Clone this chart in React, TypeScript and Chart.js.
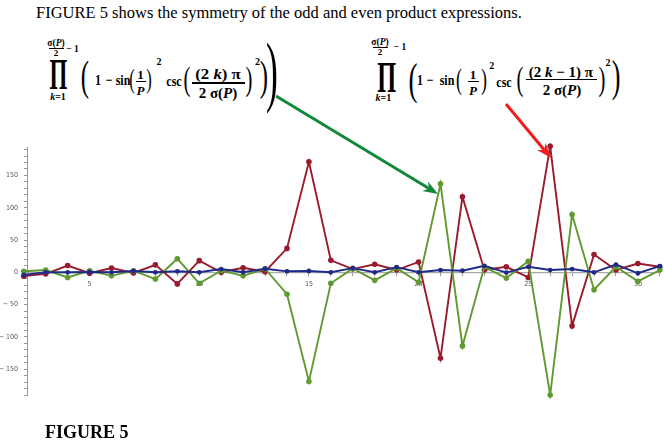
import React, { useEffect, useRef } from "react";
import { Chart, registerables } from "chart.js";
Chart.register(...registerables);

// ---- data (x = 1 .. 31) ----
const xValues = [1, 2, 3, 4, 5, 6, 7, 8, 9, 10, 11, 12, 13, 14, 15, 16, 17, 18, 19, 20, 21, 22, 23, 24, 25, 26, 27, 28, 29, 30, 31];
const redSeries = [-9, -6, -2.5, 10.5, -1.5, 6.5, -1, 11.5, -18, 18, 0, 7, 1, 37, 171, 18.5, 5, 12.5, 3.5, 16, -133, 117, 3.5, 8.5, -8, 195, -83, 27.5, 3.5, 13.5, 8.5];
const greenSeries = [0, 1.5, 3.5, -8, 2.5, -5.5, 2.5, -10.5, 21, -17, 2.5, -5.5, 5.5, -34, -169, -17, 6, -12.5, 6.5, -15.5, 137, -114, 8.5, -9, 17, -190, 89.5, -27, 8.5, -14, 3.5];
const blueSeries = [-9, -4, 0, 0, 0.5, 0, 2, 0, 1.5, 0, 5, 0, 5.5, 1.5, 2, 0, 6.5, 0, 8, 0, 3.5, 2.5, 10, -0.5, 8.5, 3.5, 5, 0, 12, -1.5, 9.5];

const xTickValues = [3, 4, 5, 6, 7, 8, 9, 10, 11, 12, 13, 14, 15, 16, 17, 18, 19, 20, 21, 22, 23, 24, 25, 26, 27, 28, 29, 30, 31];
const xLabelValues = [5, 10, 15, 20, 25, 30];
const yTickValues = [-190, -180, -170, -160, -150, -140, -130, -120, -110, -100, -90, -80, -70, -60, -50, -40, -30, -20, -10, 0, 10, 20, 30, 40, 50, 60, 70, 80, 90, 100, 110, 120, 130, 140, 150, 160, 170, 180, 190];
const yLabelValues = [-150, -100, -50, 0, 50, 100, 150];

const RED = "#9a1a2e";
const GREEN = "#5f9a30";
const BLUE = "#1f2a88";

const SERIF = '"Liberation Serif", "Times New Roman", serif';

type TP = {
  x: number; y: number; size?: number; italic?: boolean; normal?: boolean; left?: boolean;
  sx?: number; sy?: number; family?: string; children: React.ReactNode;
};
function Txt({ x, y, size = 14, italic, normal, left, sx = 1, sy = 1, family, children }: TP) {
  return (
    <span
      style={{
        position: "absolute", left: x, top: y,
        transform: `translate(${left ? "0" : "-50%"},-50%) scale(${sx},${sy})`,
        transformOrigin: left ? "left center" : "center center",
        fontFamily: family || SERIF, fontWeight: normal ? 400 : 700,
        fontStyle: italic ? "italic" : "normal", fontSize: size, lineHeight: 1,
        whiteSpace: "nowrap", color: "#000",
      }}
    >
      {children}
    </span>
  );
}
function Bar({ x1, x2, y }: { x1: number; x2: number; y: number }) {
  return <div style={{ position: "absolute", left: x1, top: y - 0.6, width: x2 - x1, height: 1.2, background: "#000" }} />;
}
function Paren({ x, y, h, ch, sx = 0.6 }: { x: number; y: number; h: number; ch: string; sx?: number }) {
  const size = h / 0.87;
  return <Txt x={x} y={y - 0.079 * size} size={size} normal sx={sx}>{ch}</Txt>;
}
function Prod({ x, y, h, w }: { x: number; y: number; h: number; w: number }) {
  const size = w / 0.74;
  const sy = h / (0.662 * size);
  return <Txt x={x} y={y} size={size} sy={sy}>Π</Txt>;
}
const I = ({ children }: { children: React.ReactNode }) => <i>{children}</i>;

function Arrow({ x1, y1, x2, y2, color, width, head, headW }: { x1: number; y1: number; x2: number; y2: number; color: string; width: number; head: number; headW: number }) {
  const dx = x2 - x1, dy = y2 - y1, L = Math.hypot(dx, dy);
  const ux = dx / L, uy = dy / L;
  const bx = x2 - ux * head, by = y2 - uy * head;
  const px = (-uy * headW) / 2, py = (ux * headW) / 2;
  const nx = bx + ux * head * 0.3, ny = by + uy * head * 0.3;
  return (
    <g>
      <line x1={x1} y1={y1} x2={nx} y2={ny} stroke={color} strokeWidth={width} />
      <polygon points={`${x2},${y2} ${bx + px},${by + py} ${nx},${ny} ${bx - px},${by - py}`} fill={color} />
    </g>
  );
}

const SQ = 0.8;

function LeftFormula() {
  return (
    <>
      <Txt x={56} y={44} size={9.5}>σ(<I>P</I>)</Txt>
      <Bar x1={48.5} x2={63.5} y={48.5} />
      <Txt x={56} y={53} size={9}>2</Txt>
      <Txt x={72.5} y={49.5} size={9.5}>− 1</Txt>
      <Prod x={58.5} y={77} h={29} w={17} />
      <Txt x={58} y={97} size={10}><I>k</I>=1</Txt>
      <Paren x={85} y={80} h={36} ch="(" />
      <Txt x={98.3} y={80} size={15} sx={SQ}>1</Txt>
      <Txt x={108.7} y={80} size={15} sx={SQ}>−</Txt>
      <Txt x={123} y={80} size={15} sx={SQ}>sin</Txt>
      <Paren x={132} y={81} h={24} ch="(" />
      <Txt x={140.5} y={74} size={13}>1</Txt>
      <Bar x1={135.5} x2={146} y={81.5} />
      <Txt x={140.5} y={90} size={13}><I>P</I></Txt>
      <Paren x={149} y={81} h={24} ch=")" />
      <Txt x={159} y={62} size={10}>2</Txt>
      <Txt x={174} y={81} size={15} sx={SQ}>csc</Txt>
      <Paren x={186.5} y={81} h={30} ch="(" />
      <Txt x={218} y={74} size={15} sx={1.12}>(2 <I>k</I>) π</Txt>
      <Bar x1={192} x2={245} y={83} />
      <Txt x={218} y={92.5} size={15}>2 σ(<I>P</I>)</Txt>
      <Paren x={249} y={81} h={30} ch=")" />
      <Txt x={257.5} y={62} size={10}>2</Txt>
      <Paren x={264} y={80} h={36} ch=")" />
      <Paren x={272} y={77.5} h={69} ch=")" sx={0.45} />
    </>
  );
}
function RightFormula() {
  return (
    <>
      <Txt x={380} y={43} size={9.5}>σ(<I>P</I>)</Txt>
      <Bar x1={372.5} x2={388} y={47.5} />
      <Txt x={380} y={52} size={9}>2</Txt>
      <Txt x={400} y={48} size={9.5}>− 1</Txt>
      <Prod x={386.7} y={77.5} h={29} w={18} />
      <Txt x={383.3} y={98} size={10}><I>k</I>=1</Txt>
      <Paren x={412.5} y={82.5} h={39} ch="(" />
      <Txt x={419.5} y={80} size={15} sx={SQ}>1</Txt>
      <Txt x={430} y={80} size={15} sx={SQ}>−</Txt>
      <Txt x={446.5} y={80} size={15} sx={SQ}>sin</Txt>
      <Paren x={458.5} y={81} h={26} ch="(" />
      <Txt x={473} y={74} size={13}>1</Txt>
      <Bar x1={467.5} x2={479} y={81.5} />
      <Txt x={473} y={90} size={13}><I>P</I></Txt>
      <Paren x={483.5} y={81} h={26} ch=")" />
      <Txt x={491.7} y={66} size={10}>2</Txt>
      <Txt x={503.5} y={82} size={15} sx={SQ}>csc</Txt>
      <Paren x={519.5} y={81} h={30} ch="(" />
      <Txt x={560.8} y={72} size={15}>(2 <I>k</I> − 1) π</Txt>
      <Bar x1={526} x2={597} y={79.5} />
      <Txt x={562} y={90} size={15}>2 σ(<I>P</I>)</Txt>
      <Paren x={602} y={81} h={30} ch=")" />
      <Txt x={608} y={63} size={10}>2</Txt>
      <Paren x={616} y={80} h={38} ch=")" />
    </>
  );
}

function PlotChart() {
  const ref = useRef<HTMLCanvasElement | null>(null);
  useEffect(() => {
    if (!ref.current) return;
    const zeroPad = (s: any) => { s.paddingLeft = 0; s.paddingRight = 0; s.paddingTop = 0; s.paddingBottom = 0; };
    const mk = (label: string, data: number[], color: string, r: number) => ({
      label,
      data: xValues.map((x, i) => ({ x, y: data[i] })),
      borderColor: color, backgroundColor: color, borderWidth: 1.9,
      pointRadius: r, pointBorderWidth: 0, pointBackgroundColor: color,
      tension: 0, clip: false as any,
    });
    const chart = new Chart(ref.current, {
      type: "line",
      data: {
        datasets: [
          mk("blue", blueSeries, BLUE, 2.4),
          mk("green", greenSeries, GREEN, 2.8),
          mk("red", redSeries, RED, 2.8),
        ],
      },
      options: {
        responsive: false,
        animation: false,
        layout: { padding: 0 },
        plugins: { legend: { display: false }, tooltip: { enabled: false } },
        scales: {
          x: {
            type: "linear", min: 2.146, max: 31.008, position: { y: 0 } as any,
            afterBuildTicks: (s: any) => { s.ticks = xTickValues.map((v) => ({ value: v })); },
            afterFit: zeroPad,
            grid: { drawOnChartArea: false, drawTicks: true, tickLength: 3, tickColor: "#999" },
            border: { display: true, color: "#aaa", width: 1.2 },
            ticks: {
              autoSkip: false, maxRotation: 0, padding: 5, color: "#555",
              font: { size: 7, family: '"Liberation Sans Narrow", "DejaVu Sans Condensed", sans-serif' },
              callback: (v: any) => (xLabelValues.includes(Number(v)) ? String(v) : ""),
            },
          },
          y: {
            type: "linear", min: -190, max: 194, position: "left",
            afterBuildTicks: (s: any) => { s.ticks = yTickValues.map((v) => ({ value: v })); },
            afterFit: (s: any) => { zeroPad(s); s.width = 27; },
            grid: { drawOnChartArea: false, drawTicks: true, tickLength: 3, tickColor: "#999" },
            border: { display: true, color: "#999", width: 1 },
            ticks: {
              autoSkip: false, padding: 6, color: "#555",
              font: { size: 7, family: '"Liberation Sans Narrow", "DejaVu Sans Condensed", sans-serif' },
              callback: (v: any) => {
                const n = Number(v);
                if (!yLabelValues.includes(n)) return "";
                return n < 0 ? "− " + Math.abs(n) : String(n);
              },
            },
          },
        },
      },
    });
    return () => chart.destroy();
  }, []);
  return <canvas ref={ref} width={664} height={256} style={{ position: "absolute", left: 0, top: 143, width: 664, height: 256 }} />;
}

export default function App() {
  return (
    <div style={{ position: "fixed", left: 0, top: 0, width: 664, height: 444, background: "#fff", overflow: "hidden" }}>
      <Txt x={36} y={13} size={16.5} normal left>FIGURE 5 shows the symmetry of the odd and even product expressions.</Txt>
      <LeftFormula />
      <RightFormula />
      <PlotChart />
      <svg width={664} height={444} style={{ position: "absolute", left: 0, top: 0, pointerEvents: "none" }}>
        <Arrow x1={276} y1={96} x2={438} y2={194} color="#12893a" width={3} head={15} headW={11} />
        <Arrow x1={506} y1={104} x2={551} y2={158} color="#f21c1c" width={3} head={15} headW={11} />
      </svg>
      <Txt x={45} y={432} size={18} left>FIGURE 5</Txt>
    </div>
  );
}
